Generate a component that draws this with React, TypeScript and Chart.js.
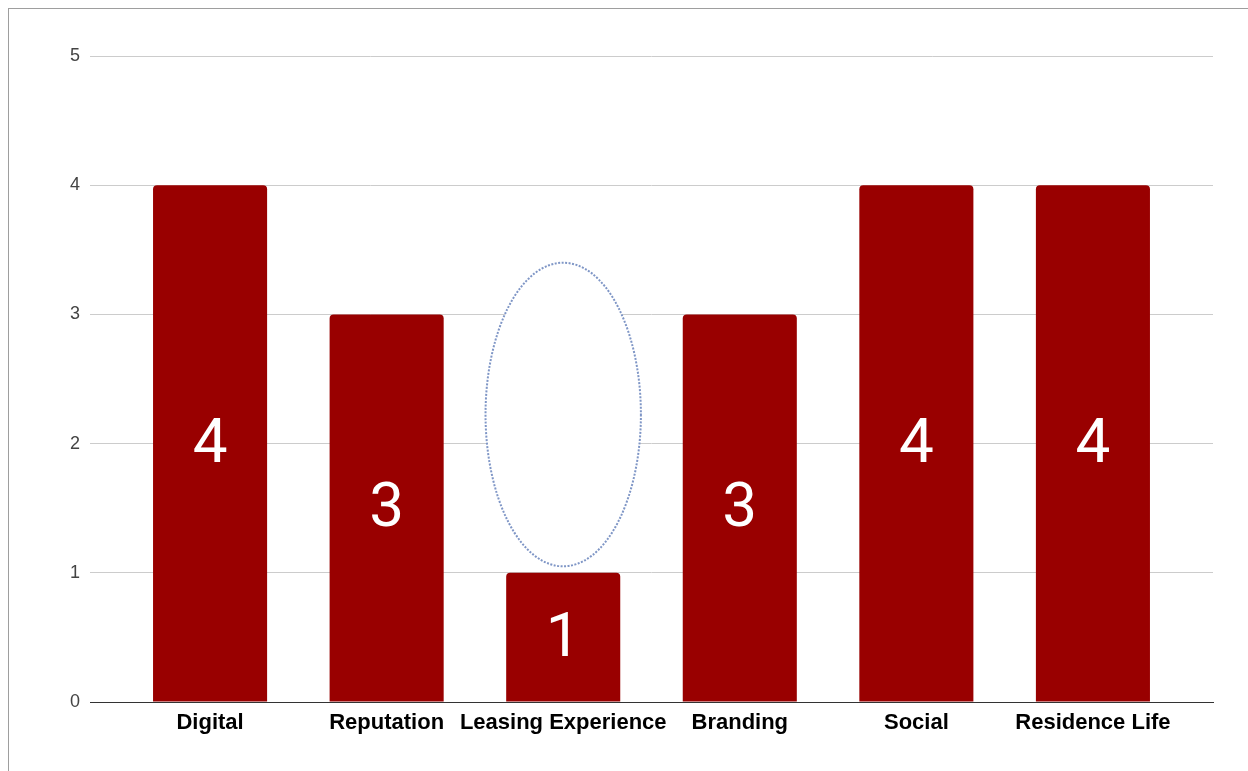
import React, { useEffect, useRef } from "react";
import { Chart, registerables } from "chart.js";

Chart.register(...registerables);

const categories = ["Digital", "Reputation", "Leasing Experience", "Branding", "Social", "Residence Life"];
const scores = [4, 3, 1, 3, 4, 4];
const yTicks = [0, 1, 2, 3, 4, 5];
// highlight ellipse around "Leasing Experience", in data units
const highlightCategory = 2;
const highlightHalfWidth = 0.44;
const highlightTop = 3.4;
const highlightBottom = 1.05;

const BAR_COLOR = "#990000";

const ellipsePlugin = {
  id: "highlightEllipse",
  afterDatasetsDraw(chart: any) {
    const { ctx, scales } = chart;
    const x = scales.x;
    const y = scales.y;
    const cx = x.getPixelForValue(highlightCategory);
    const rx = Math.abs(x.getPixelForValue(highlightCategory + highlightHalfWidth) - cx);
    const top = y.getPixelForValue(highlightTop);
    const bottom = y.getPixelForValue(highlightBottom);
    const cy = (top + bottom) / 2;
    const ry = (bottom - top) / 2;
    ctx.save();
    ctx.beginPath();
    ctx.ellipse(cx, cy, rx, ry, 0, 0, Math.PI * 2);
    ctx.fillStyle = "#ffffff";
    ctx.fill();
    ctx.setLineDash([2, 1.5]);
    ctx.lineWidth = 2;
    ctx.strokeStyle = "#7f96c6";
    ctx.stroke();
    ctx.restore();
  },
};

const valueLabelPlugin = {
  id: "valueLabels",
  afterDatasetsDraw(chart: any) {
    const { ctx } = chart;
    const meta = chart.getDatasetMeta(0);
    ctx.save();
    ctx.fillStyle = "#ffffff";
    ctx.font = "62px Roboto";
    ctx.textAlign = "center";
    ctx.textBaseline = "middle";
    meta.data.forEach((bar: any, i: number) => {
      const cy = (bar.y + bar.base) / 2;
      ctx.fillText(String(scores[i]), bar.x, cy + 3);
    });
    ctx.restore();
  },
};

export default function App() {
  const ref = useRef<HTMLCanvasElement | null>(null);
  useEffect(() => {
    if (!ref.current) return;
    const chart = new Chart(ref.current, {
      type: "bar",
      data: {
        datasets: [
          {
            data: scores.map((v, i) => ({ x: i, y: v })),
            backgroundColor: BAR_COLOR,
            borderRadius: { topLeft: 4, topRight: 4, bottomLeft: 0, bottomRight: 0 },
            borderSkipped: false,
            categoryPercentage: 1,
            barPercentage: 0.646,
          },
        ],
      },
      options: {
        responsive: false,
        animation: false,
        layout: { padding: { top: 47, right: 35, bottom: 0, left: 0 } },
        plugins: { legend: { display: false }, tooltip: { enabled: false } },
        scales: {
          x: {
            type: "linear",
            offset: false,
            min: -0.68,
            max: 5.68,
            grid: { display: false, drawTicks: false, offset: false },
            border: { display: true, color: "#333333", width: 1 },
            ticks: {
              stepSize: 1,
              includeBounds: false,
              autoSkip: false,
              maxRotation: 0,
              padding: 8,
              color: "#000000",
              font: { family: "'Liberation Sans', Arial, sans-serif", size: 22, weight: "bold" },
              callback: (v: any) => (Number.isInteger(v) && categories[v] !== undefined ? categories[v] : ""),
            },
            afterFit: (s: any) => {
              s.height = 69;
            },
          },
          y: {
            min: 0,
            max: 5,
            afterBuildTicks: (s: any) => {
              s.ticks = yTicks.map((v) => ({ value: v }));
            },
            grid: { color: "#cccccc", lineWidth: 1, drawTicks: false },
            border: { display: false },
            ticks: {
              padding: 10,
              color: "#444444",
              font: { family: "'Liberation Sans', Arial, sans-serif", size: 18 },
            },
            afterFit: (s: any) => {
              s.width = 81;
            },
          },
        },
      },
      plugins: [ellipsePlugin, valueLabelPlugin],
    } as any);
    return () => chart.destroy();
  }, []);
  return (
    <div
      style={{
        position: "absolute",
        left: 8,
        top: 8,
        width: 1240,
        height: 763,
        boxSizing: "border-box",
        borderTop: "1px solid #9e9e9e",
        borderLeft: "1px solid #9e9e9e",
        background: "#ffffff",
        overflow: "hidden",
      }}
    >
      <canvas ref={ref} width={1239} height={762} style={{ display: "block" }} />
    </div>
  );
}
